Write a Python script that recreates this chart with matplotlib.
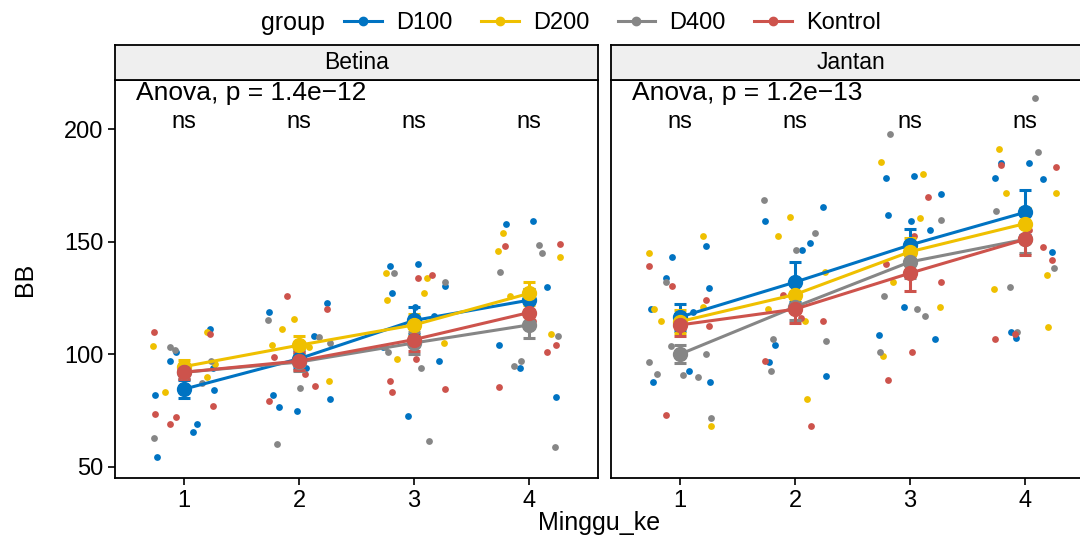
import numpy as np
import matplotlib.pyplot as plt
from matplotlib.lines import Line2D

plt.rcParams['font.family'] = ['Liberation Sans', 'DejaVu Sans']

weeks = [1, 2, 3, 4]
groups = ['D100', 'D200', 'D400', 'Kontrol']
colors = ['#0073C2', '#EFC000', '#868686', '#CD534C']
panels = ['Betina', 'Jantan']
anova_labels = ['Anova, p = 1.4e\u221212', 'Anova, p = 1.2e\u221213']
sig_labels = ['ns', 'ns', 'ns', 'ns']

# group means and standard errors per week
betina_mean = [[84.5, 98, 115, 124],
               [94.5, 104, 113, 127],
               [92, 96.5, 105, 113],
               [92, 97, 106.5, 118.5]]
betina_se = [[4, 4, 6, 5],
             [3, 4, 5, 5],
             [3, 4, 5, 6],
             [3, 4, 5, 5]]
jantan_mean = [[116.5, 132, 148.5, 163],
               [114.5, 126.5, 145.5, 158],
               [100, 121, 141, 151],
               [113, 120, 136, 151]]
jantan_se = [[6, 9, 7, 10],
             [5, 6, 6, 7],
             [4, 6, 7, 6],
             [5, 6, 8, 7]]

# individual observations (week 1..4) for each group
betina_d100 = [[111, 101, 97, 94, 82, 69, 65.5, 54.5, 84],
               [122.6, 118.6, 108, 94, 82, 80, 76.5, 75],
               [140, 139, 130.5, 127.4, 121, 117, 103, 97, 72.6],
               [158, 159, 130, 104, 81, 94]]
betina_d200 = [[110, 103.5, 90, 85, 83, 95.6],
               [115.5, 111, 88, 104, 103],
               [136, 134, 127, 124, 105, 98],
               [154, 143.4, 125.7, 117, 109, 146]]
betina_d400 = [[103, 102, 97, 63, 87],
               [115, 107.5, 85, 60, 105],
               [136, 132, 101, 94, 61.5, 103],
               [148.7, 145, 136.7, 108, 94.7, 97, 59]]
betina_kontrol = [[110, 109, 72, 69, 77, 73.5],
                  [125.7, 120, 79, 86, 91, 98.6],
                  [135, 134, 88, 84.5, 83, 98],
                  [149, 148, 114.6, 101, 85.4, 104]]
jantan_d100 = [[148, 143.4, 134, 129.6, 120, 118.6, 92.5, 87.6, 87.6],
               [165.5, 159, 149.6, 146.5, 96.5, 90.3, 104],
               [179, 178.3, 171, 162, 159, 155, 108.4, 106.6, 120.8],
               [185, 185, 178, 178.3, 145.6, 107, 110]]
jantan_d200 = [[152.6, 145, 121, 110, 114.6, 68, 120],
               [161, 152.6, 136.7, 120, 114.6, 80],
               [185.4, 180, 160.6, 99, 120.8, 132],
               [191, 171.7, 171.7, 162.8, 135.4, 128.8, 112]]
jantan_d400 = [[132, 103.5, 100, 96.5, 90, 90.7, 91, 71.7],
               [168.6, 154, 146.5, 106.6, 105.8, 92.5],
               [197.8, 159.7, 125.7, 120, 117, 101],
               [213.7, 190, 163.7, 138.5, 130, 110]]
jantan_kontrol = [[139, 124, 130.5, 73, 112.4],
                  [126.5, 114.6, 97, 68, 116],
                  [170, 152.6, 140, 132, 88.5, 101],
                  [183, 184, 155, 147.8, 106.6, 142, 109]]

panel_means = [betina_mean, jantan_mean]
panel_se = [betina_se, jantan_se]
panel_points = [[betina_d100, betina_d200, betina_d400, betina_kontrol],
                [jantan_d100, jantan_d200, jantan_d400, jantan_kontrol]]

fig = plt.figure(figsize=(10.8, 5.42), dpi=100)

ax_w = 0.4472
lefts = [0.1065, 0.5657]
bottom, top = 0.118, 0.852

for p, name in enumerate(panels):
    ax = fig.add_axes([lefts[p], bottom, ax_w, top - bottom])

    # jittered raw points
    for g in range(len(groups)):
        for w, vals in zip(weeks, panel_points[p][g]):
            n = len(vals)
            off = 0.27 * np.sin(np.arange(n) * 2.4 + g * 1.3 + w)
            ax.scatter(w + off, vals, s=24, color=colors[g], linewidths=0, zorder=2)

    # mean +/- se lines
    for g in range(len(groups)):
        ax.errorbar(weeks, panel_means[p][g], yerr=panel_se[p][g], color=colors[g],
                    marker='o', markersize=10, lw=2.2, elinewidth=2.2, capsize=4,
                    capthick=2.2, zorder=3)

    ax.text(0.58, 216, anova_labels[p], fontsize=19, va='center', ha='left')
    for w, s in zip(weeks, sig_labels):
        ax.text(w, 203, s, fontsize=17, ha='center', va='center')

    ax.set_xlim(0.4, 4.6)
    ax.set_ylim(45, 221.7)
    ax.set_xticks(weeks)
    ax.set_yticks([50, 100, 150, 200])
    ax.tick_params(direction='out', length=5, width=1.2, labelsize=17, colors='black')
    for sp in ax.spines.values():
        sp.set_linewidth(1.3)
    if p == 1:
        ax.tick_params(axis='y', left=False, labelleft=False)

    # facet strip
    sax = fig.add_axes([lefts[p], top, ax_w, 0.065])
    sax.set_facecolor('#EFEFEF')
    sax.set_xticks([])
    sax.set_yticks([])
    for sp in sax.spines.values():
        sp.set_linewidth(1.3)
    sax.text(0.5 if p == 0 else 0.5 * (1080 - 611) / (ax_w * 1080) + 0.012, 0.5, name,
             transform=sax.transAxes, ha='center', va='center', fontsize=16.5)

fig.text(0.023, (bottom + top) / 2, 'BB', rotation=90, ha='center', va='center', fontsize=18)
fig.text(0.555, 0.035, 'Minggu_ke', ha='center', va='center', fontsize=18)

handles = [Line2D([], [], color=c, marker='o', markersize=6, lw=2.2) for c in colors]
fig.text(0.242, 0.957, 'group', ha='left', va='center', fontsize=18)
fig.legend(handles, groups, loc='center left', bbox_to_anchor=(0.31, 0.957), ncol=4,
           frameon=False, fontsize=17, handlelength=1.6, columnspacing=1.2,
           handletextpad=0.6, borderaxespad=0)

fig.savefig('out.png', dpi=100)
